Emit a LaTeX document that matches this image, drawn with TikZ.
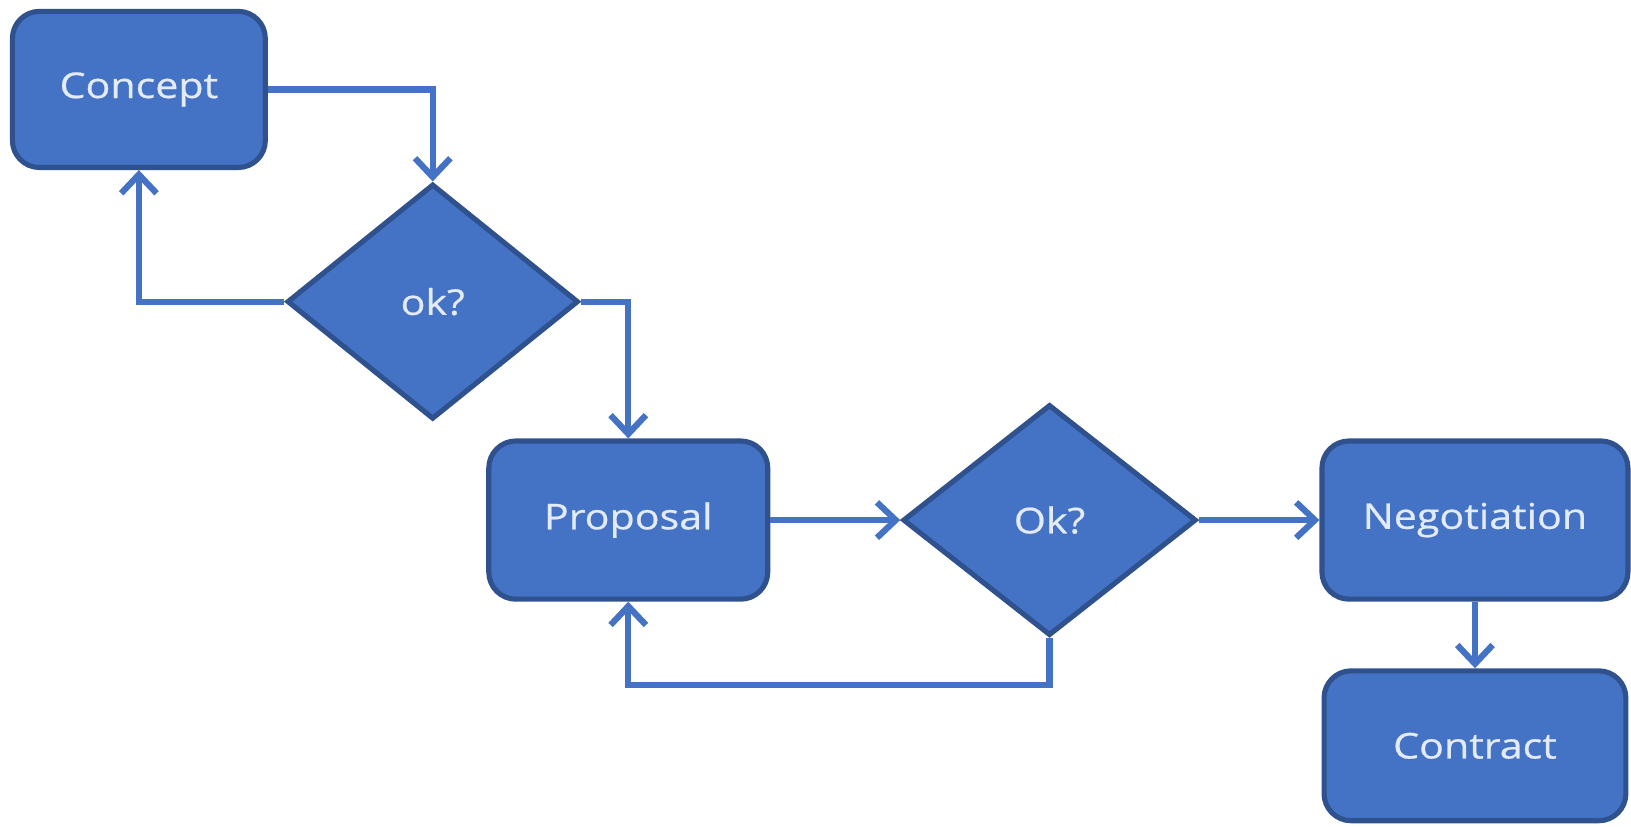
\documentclass[tikz,border=0pt]{standalone}
\usepackage{fontspec}
\setmainfont{Open Sans}[FakeStretch=1.16,FakeBold=0.6]
\usetikzlibrary{shapes.geometric,arrows.meta}
\definecolor{boxfill}{RGB}{68,114,196}
\definecolor{boxdraw}{RGB}{47,82,143}
\definecolor{linec}{RGB}{68,114,196}
\definecolor{textc}{RGB}{228,235,248}
\tikzset{
  proc/.style={rectangle, rounded corners=0.26cm, fill=boxfill, draw=boxdraw, line width=1.4pt,
    text=textc, font=\fontsize{9.7}{11}\selectfont, inner sep=0pt},
  decis/.style={diamond, fill=boxfill, draw=boxdraw, line width=1.4pt, inner sep=0pt,
    text=textc, font=\fontsize{9.7}{11}\selectfont},
  conn/.style={draw=linec, line width=1.7pt, -{Straight Barb[length=0.18cm,width=0.34cm,line width=1.7pt]}},
}
\begin{document}
\begin{tikzpicture}[x=0.01cm,y=-0.01cm]
\useasboundingbox (0,0) rectangle (1568,795);
\node[proc, minimum width=2.43cm, minimum height=1.50cm] (concept) at (133.5,86) {Concept};
\node[decis, minimum width=2.80cm, minimum height=2.26cm] (okA) at (416,290) {ok?};
\node[proc, minimum width=2.68cm, minimum height=1.52cm] (proposal) at (604,500) {Proposal};
\node[decis, minimum width=2.82cm, minimum height=2.22cm] (okB) at (1009,500) {Ok?};
\node[proc, minimum width=2.94cm, minimum height=1.52cm] (negotiation) at (1418,500) {Negotiation};
\node[proc, minimum width=2.90cm, minimum height=1.44cm] (contract) at (1418,717) {Contract};
\draw[conn] (concept.east) -| (okA.north);
\draw[conn] (okA.west) -| (concept.south);
\draw[conn] (okA.east) -| (proposal.north);
\draw[conn] (proposal.east) -- (okB.west);
\draw[conn] (okB.south) -- ++(0,45) -| (proposal.south);
\draw[conn] (okB.east) -- (negotiation.west);
\draw[conn] (negotiation.south) -- (contract.north);
\end{tikzpicture}
\end{document}
